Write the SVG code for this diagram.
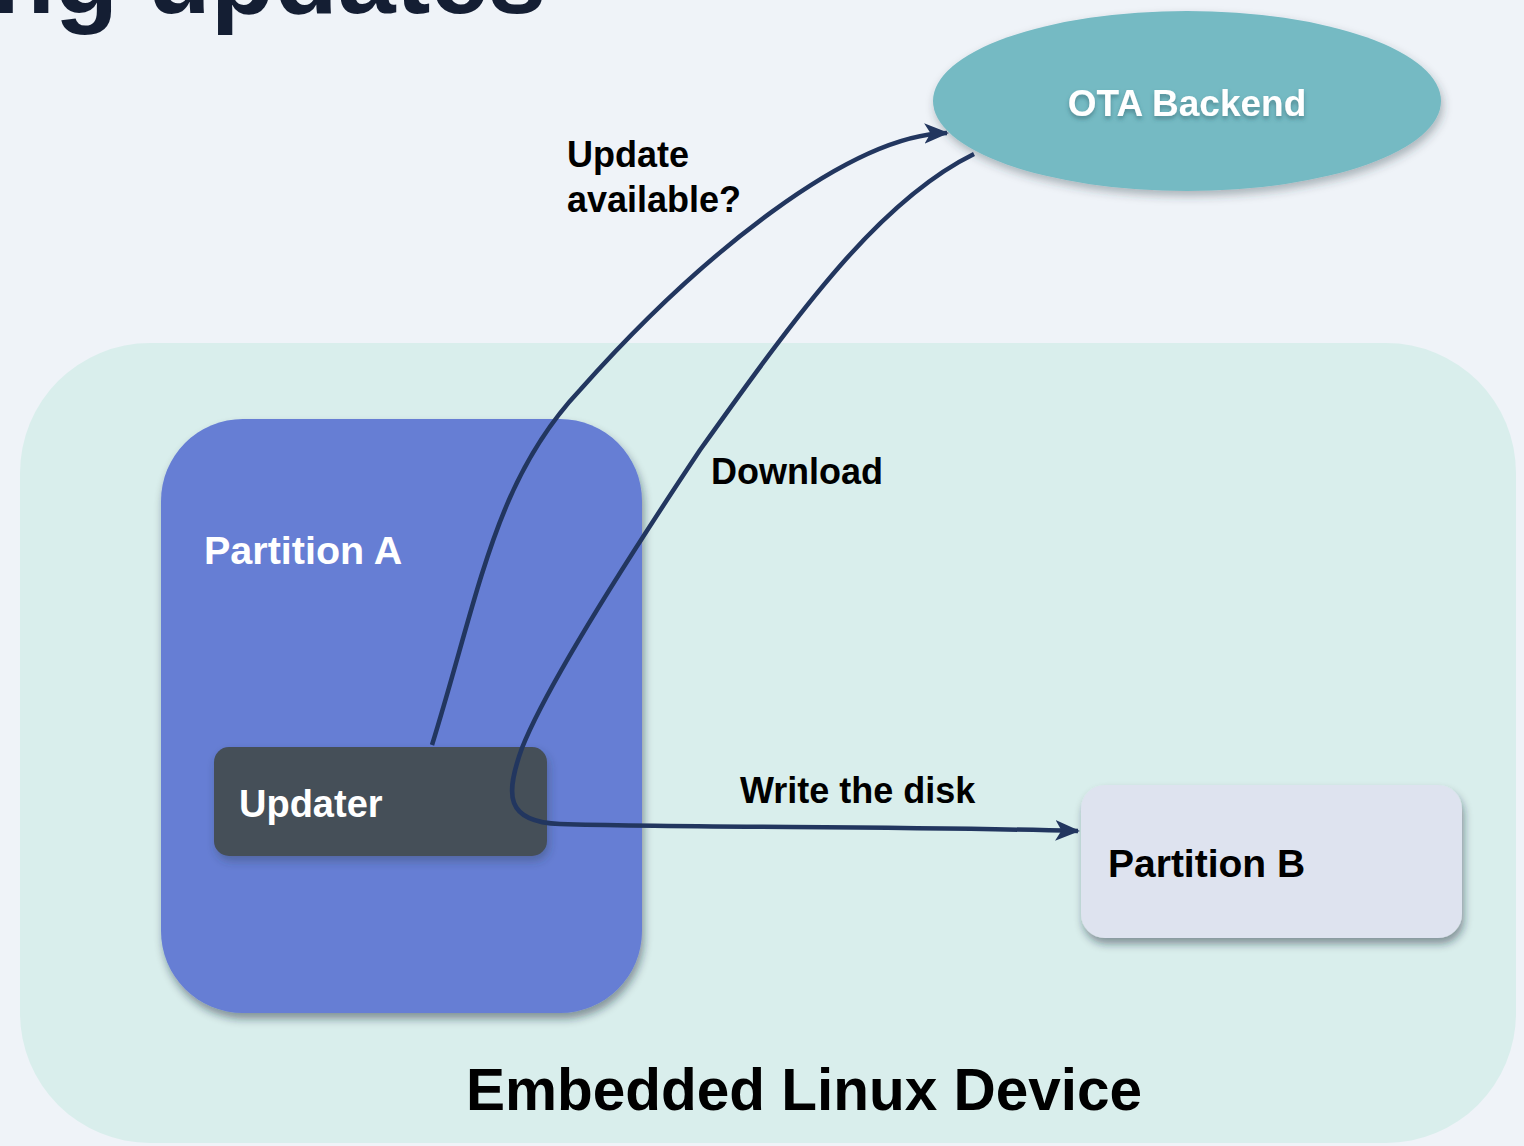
<svg xmlns="http://www.w3.org/2000/svg" width="1524" height="1146" viewBox="0 0 1524 1146">
  <defs>
    <style>
      .lbl { font-family: "Liberation Sans", Arial, sans-serif; font-weight: bold; }
      .edge { fill: none; stroke: #22365f; stroke-width: 4.5; stroke-linecap: butt; }
    </style>
    <filter id="shadow" x="-10%" y="-10%" width="130%" height="130%">
      <feDropShadow dx="2" dy="6" stdDeviation="4" flood-color="#1a2630" flood-opacity="0.45"/>
    </filter>
    <filter id="softShadow" x="-10%" y="-10%" width="130%" height="130%">
      <feDropShadow dx="2" dy="5" stdDeviation="5" flood-color="#2a3a40" flood-opacity="0.35"/>
    </filter>
    <filter id="textShadow" x="-10%" y="-30%" width="130%" height="160%">
      <feDropShadow dx="0" dy="3" stdDeviation="2" flood-color="#2b5a62" flood-opacity="0.5"/>
    </filter>
    <marker id="arrow" viewBox="0 0 12 10" refX="11" refY="5" markerWidth="5.5" markerHeight="4.6" markerUnits="strokeWidth" orient="auto">
      <path d="M0,0 L12,5 L0,10 L3,5 Z" fill="#22365f"/>
    </marker>
  </defs>

  <!-- page background -->
  <rect width="1524" height="1146" fill="#eff3f8"/>

  <!-- slide title, running off the top edge -->
  <text class="lbl" x="546" y="13" font-size="104" fill="#141e33" text-anchor="end">ng updates</text>

  <!-- device container -->
  <g id="device">
    <rect x="20" y="343" width="1496" height="800" rx="130" fill="#d9eeec"/>
    <text class="lbl" x="804" y="1110" font-size="58.5" fill="#000" text-anchor="middle">Embedded Linux Device</text>
  </g>

  <g id="partition-a">
    <rect x="161" y="419" width="481" height="594" rx="82" fill="#667ed4" filter="url(#shadow)"/>
    <text class="lbl" x="204" y="564" font-size="39.5" fill="#ffffff">Partition A</text>
  </g>

  <g id="updater">
    <rect x="214" y="747" width="333" height="109" rx="15" fill="#454f59" filter="url(#softShadow)"/>
    <text class="lbl" x="239" y="817" font-size="38" fill="#ffffff">Updater</text>
  </g>

  <g id="partition-b">
    <rect x="1081" y="785" width="381" height="153" rx="24" fill="#dee3ef" filter="url(#shadow)"/>
    <text class="lbl" x="1108" y="877" font-size="39" fill="#000">Partition B</text>
  </g>

  <g id="ota-backend">
    <ellipse cx="1187" cy="101" rx="254" ry="90" fill="#75bac3" filter="url(#softShadow)"/>
    <text class="lbl" x="1187" y="116" font-size="37" fill="#ffffff" text-anchor="middle" filter="url(#textShadow)">OTA Backend</text>
  </g>

  <!-- connectors -->
  <g id="connectors">
    <path class="edge" marker-end="url(#arrow)" d="M432,745 C480,590 495,480 580,390 C700,255 850,135 947,133"/>
    <path class="edge" marker-end="url(#arrow)" d="M974,154 C880,200 800,310 700,450 C620,570 545,690 522,748 C505,795 505,822 560,824 C700,828 900,826 1078,831"/>
    <text class="lbl" x="567" y="167" font-size="36" fill="#000">Update</text>
    <text class="lbl" x="567" y="212" font-size="36" fill="#000">available?</text>
    <text class="lbl" x="711" y="484" font-size="36" fill="#000">Download</text>
    <text class="lbl" x="740" y="803" font-size="36" fill="#000">Write the disk</text>
  </g>
</svg>
